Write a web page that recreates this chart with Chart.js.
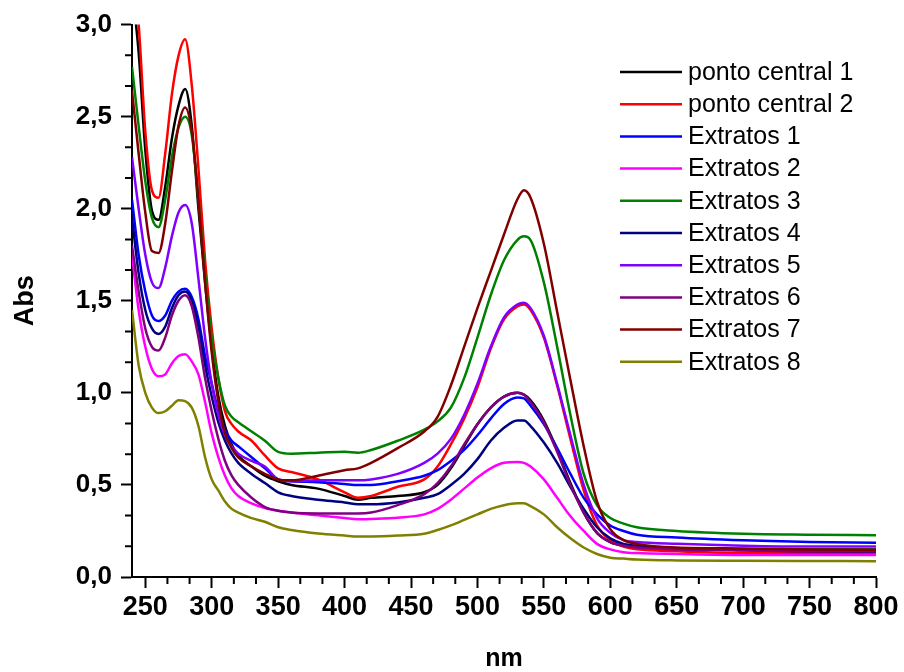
<!DOCTYPE html>
<html>
<head>
<meta charset="utf-8">
<style>
  body { margin: 0; background: #fff; }
  #chartWrap { width: 904px; height: 672px; }
</style>
<script src="https://cdn.jsdelivr.net/npm/chart.js@4/dist/chart.umd.min.js"></script>
</head>
<body>
<div id="chartWrap"><canvas id="spectraChart" width="904" height="672"></canvas></div>
<script>
// wavelength grid (nm)
const wavelengths = [
  240, 245, 250, 255, 260, 265, 270, 275, 280, 285, 290, 295, 300, 305, 310, 315, 320,
  330, 340, 350, 360,
  380, 400, 410, 420, 440, 460, 470, 480, 490,
  500, 510, 520, 530, 535, 540, 550, 560, 570, 580, 590, 600, 610, 620,
  650, 700, 750, 800
];

const pontoCentral1 = [
  3.2, 2.85, 2.32, 1.99, 1.94, 2.12, 2.38, 2.56, 2.65, 2.45, 2.0, 1.6, 1.25, 0.98, 0.82, 0.72, 0.66,
  0.6, 0.55, 0.52, 0.5,
  0.48, 0.44, 0.42, 0.43, 0.44, 0.46, 0.5, 0.59, 0.71,
  0.83, 0.92, 0.98, 1.0, 0.99, 0.96, 0.85, 0.69, 0.51, 0.35, 0.24, 0.19, 0.17, 0.16,
  0.155, 0.15, 0.15, 0.15
];
const pontoCentral2 = [
  3.3, 3.0, 2.42, 2.1, 2.06, 2.3, 2.62, 2.83, 2.92, 2.67, 2.22, 1.72, 1.35, 1.08, 0.9, 0.83, 0.79,
  0.74, 0.66, 0.59, 0.57,
  0.53, 0.46, 0.43, 0.44, 0.49, 0.53, 0.6, 0.72, 0.86,
  1.03, 1.24, 1.4, 1.47, 1.48, 1.45, 1.3, 1.04, 0.75, 0.47, 0.28, 0.2, 0.165, 0.15,
  0.14, 0.13, 0.13, 0.13
];
const extratos1 = [
  2.05, 1.75, 1.55, 1.42, 1.39, 1.42, 1.5, 1.55, 1.565, 1.52, 1.4, 1.2, 1.05, 0.9, 0.8, 0.74, 0.71,
  0.65, 0.59, 0.53, 0.52,
  0.515, 0.505, 0.5, 0.5, 0.52, 0.55, 0.58, 0.63, 0.69,
  0.77, 0.86, 0.94, 0.975, 0.97, 0.93, 0.83, 0.7, 0.56, 0.43, 0.34, 0.28, 0.25, 0.23,
  0.215, 0.2, 0.19, 0.186
];
const extratos2 = [
  1.75, 1.45, 1.25, 1.13, 1.09, 1.1, 1.16, 1.2, 1.21, 1.17, 1.1, 0.95, 0.78, 0.65, 0.55, 0.48, 0.44,
  0.4, 0.375, 0.36, 0.35,
  0.335, 0.32, 0.313, 0.315, 0.322, 0.34, 0.37, 0.42, 0.48,
  0.54, 0.59, 0.62, 0.625, 0.62, 0.6, 0.53, 0.43, 0.33, 0.25, 0.18, 0.15, 0.135, 0.13,
  0.125, 0.12, 0.12, 0.119
];
const extratos3 = [
  2.77, 2.45, 2.15, 1.95, 1.9, 2.05, 2.28, 2.44, 2.5, 2.4, 2.05, 1.65, 1.3, 1.08, 0.93, 0.87, 0.84,
  0.79, 0.74, 0.68, 0.67,
  0.675, 0.68, 0.675, 0.69, 0.74, 0.8, 0.845, 0.92, 1.08,
  1.3, 1.53, 1.72, 1.83, 1.85, 1.83, 1.6, 1.25, 0.88, 0.56, 0.39, 0.32, 0.29, 0.27,
  0.25, 0.235, 0.23, 0.227
];
const extratos4 = [
  1.95, 1.65, 1.45, 1.35, 1.32, 1.36, 1.46, 1.53, 1.55, 1.5, 1.36, 1.15, 0.98, 0.84, 0.74, 0.67, 0.62,
  0.56, 0.51, 0.46, 0.44,
  0.42, 0.405, 0.395, 0.395, 0.405, 0.43, 0.45, 0.5, 0.56,
  0.64, 0.74, 0.81, 0.85, 0.85, 0.82, 0.73, 0.62, 0.49, 0.37, 0.27, 0.21, 0.18, 0.17,
  0.155, 0.145, 0.14, 0.138
];
const extratos5 = [
  2.28, 2.0, 1.75, 1.6, 1.57, 1.68, 1.85, 1.98, 2.02, 1.92, 1.62, 1.3, 1.05, 0.88, 0.77, 0.71, 0.67,
  0.63, 0.6, 0.53, 0.52,
  0.525, 0.525, 0.525, 0.53, 0.56, 0.62, 0.67, 0.75, 0.88,
  1.05, 1.25, 1.41, 1.48, 1.49, 1.46, 1.31, 1.05, 0.77, 0.5, 0.32, 0.24, 0.2, 0.19,
  0.18, 0.17, 0.165, 0.165
];
const extratos6 = [
  1.8, 1.55, 1.35, 1.25, 1.23, 1.3, 1.42, 1.5, 1.53, 1.47, 1.3, 1.08, 0.9, 0.75, 0.63, 0.55, 0.5,
  0.43, 0.38, 0.36, 0.35,
  0.345, 0.345, 0.345, 0.35, 0.39, 0.45, 0.51, 0.6, 0.72,
  0.83, 0.92, 0.98, 1.0, 0.99, 0.95, 0.84, 0.68, 0.5, 0.35, 0.24, 0.19, 0.17, 0.16,
  0.15, 0.145, 0.14, 0.14
];
const extratos7 = [
  2.64, 2.3, 1.98, 1.77, 1.76, 1.92, 2.2, 2.45, 2.55, 2.42, 2.05, 1.6, 1.22, 0.95, 0.78, 0.7, 0.65,
  0.6, 0.56, 0.53, 0.525,
  0.55, 0.58, 0.59, 0.62, 0.7, 0.79, 0.87, 1.04, 1.25,
  1.46, 1.66, 1.86, 2.05, 2.1, 2.06, 1.81, 1.44, 1.07, 0.71, 0.41, 0.26, 0.2, 0.18,
  0.16, 0.155, 0.15, 0.147
];
const extratos8 = [
  1.45, 1.15, 1.0, 0.92, 0.89, 0.9, 0.93, 0.96, 0.955, 0.92, 0.82, 0.65, 0.53, 0.47, 0.41, 0.37, 0.35,
  0.32, 0.3, 0.27, 0.255,
  0.236, 0.225, 0.22, 0.22, 0.225, 0.235, 0.255, 0.28, 0.31,
  0.34, 0.37, 0.39, 0.4, 0.4, 0.385, 0.34, 0.27, 0.21, 0.16, 0.125, 0.105, 0.1, 0.095,
  0.09, 0.088, 0.087, 0.086
];

const seriesLabels = ['ponto central 1', 'ponto central 2', 'Extratos 1', 'Extratos 2', 'Extratos 3',
  'Extratos 4', 'Extratos 5', 'Extratos 6', 'Extratos 7', 'Extratos 8'];
const seriesValues = [pontoCentral1, pontoCentral2, extratos1, extratos2, extratos3,
  extratos4, extratos5, extratos6, extratos7, extratos8];
const seriesColors = ['#000000', '#ff0000', '#0000ff', '#ff00ff', '#008000',
  '#000080', '#8000ff', '#800080', '#800000', '#808000'];

const xMajorTicks = [250, 300, 350, 400, 450, 500, 550, 600, 650, 700, 750, 800];
const yMajorTicks = [0, 0.5, 1.0, 1.5, 2.0, 2.5, 3.0];

const FONT = '"Liberation Sans", Arial, sans-serif';

// minor ticks: two between each pair of major ticks, plus legend inside the plot
const extrasPlugin = {
  id: 'extras',
  afterDraw(chart) {
    const ctx = chart.ctx;
    const x = chart.scales.x;
    const y = chart.scales.y;
    const area = chart.chartArea;
    ctx.save();
    ctx.strokeStyle = '#000';
    ctx.lineWidth = 2;
    ctx.beginPath();
    for (let v = 250; v < 800; v += 50) {
      [v + 50 / 3, v + 100 / 3].forEach(m => {
        const px = x.getPixelForValue(m);
        ctx.moveTo(px, area.bottom);
        ctx.lineTo(px, area.bottom + 7);
      });
    }
    for (let v = 0; v < 3; v += 0.5) {
      [v + 0.5 / 3, v + 1 / 3].forEach(m => {
        const py = y.getPixelForValue(m);
        ctx.moveTo(area.left, py);
        ctx.lineTo(area.left - 7, py);
      });
    }
    ctx.stroke();

    // legend
    ctx.font = '25px ' + FONT;
    ctx.textBaseline = 'middle';
    ctx.textAlign = 'left';
    chart.data.datasets.forEach((ds, i) => {
      const rowY = 72 + i * 32.2;
      ctx.strokeStyle = ds.borderColor;
      ctx.lineWidth = 2.5;
      ctx.beginPath();
      ctx.moveTo(620, rowY);
      ctx.lineTo(682, rowY);
      ctx.stroke();
      ctx.fillStyle = '#000';
      ctx.fillText(ds.label, 688, rowY + 1);
    });
    ctx.restore();
  }
};

document.addEventListener('DOMContentLoaded', function () {
  const ctx = document.getElementById('spectraChart').getContext('2d');

  // later series are painted over earlier ones
  const datasets = seriesLabels.map((label, i) => ({
    label: label,
    data: wavelengths.map((w, j) => ({ x: w, y: seriesValues[i][j] })),
    borderColor: seriesColors[i],
    backgroundColor: seriesColors[i],
    borderWidth: 2.5,
    pointRadius: 0,
    fill: false,
    order: -i,
    cubicInterpolationMode: 'monotone'
  }));

  new Chart(ctx, {
    type: 'line',
    data: { datasets: datasets },
    options: {
      responsive: false,
      animation: false,
      layout: { padding: { top: 23, right: 28, left: 0, bottom: 0 } },
      plugins: {
        legend: { display: false },
        tooltip: { enabled: false }
      },
      scales: {
        x: {
          type: 'linear',
          min: 240,
          max: 800,
          afterBuildTicks: s => { s.ticks = xMajorTicks.map(v => ({ value: v })); },
          afterFit: s => { s.height = 95; },
          border: { display: true, color: '#000', width: 2 },
          grid: { drawOnChartArea: false, tickLength: 11, tickWidth: 2, tickColor: '#000' },
          ticks: {
            color: '#000',
            padding: 3,
            maxRotation: 0,
            font: { family: FONT, size: 27, weight: 'bold' }
          },
          title: {
            display: true,
            text: 'nm',
            color: '#000',
            padding: 0,
            font: { family: FONT, size: 25, weight: 'bold', lineHeight: 1 }
          }
        },
        y: {
          type: 'linear',
          min: 0,
          max: 3,
          afterBuildTicks: s => { s.ticks = yMajorTicks.map(v => ({ value: v })); },
          afterFit: s => { s.width = 132; },
          border: { display: true, color: '#000', width: 2 },
          grid: { drawOnChartArea: false, tickLength: 11, tickWidth: 2, tickColor: '#000' },
          ticks: {
            color: '#000',
            padding: 9,
            font: { family: FONT, size: 26, weight: 'bold' },
            callback: v => v.toFixed(1).replace('.', ',')
          },
          title: {
            display: true,
            text: 'Abs',
            color: '#000',
            padding: { top: 9, bottom: 0 },
            font: { family: FONT, size: 27, weight: 'bold', lineHeight: 1.2 }
          }
        }
      }
    },
    plugins: [extrasPlugin]
  });
});
</script>
</body>
</html>
